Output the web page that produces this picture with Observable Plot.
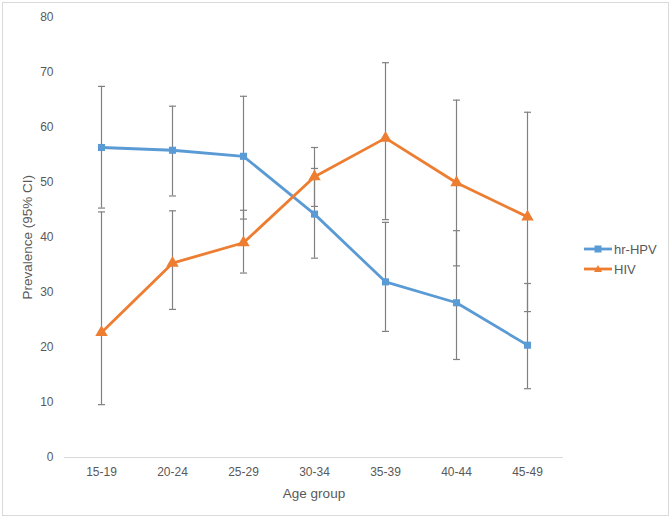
<!DOCTYPE html>
<html><head><meta charset="utf-8">
<script src="https://cdn.jsdelivr.net/npm/d3@7"></script>
<script src="https://cdn.jsdelivr.net/npm/@observablehq/plot@0.6"></script>
<style>
body{margin:0;background:#fff;font-family:"Liberation Sans",Arial,sans-serif;}
#wrap{position:relative;width:672px;height:519px;}
#frame{position:absolute;left:2px;top:2px;width:665px;height:512px;border:1px solid #d9d9d9;pointer-events:none;}
#legend{position:absolute;left:584px;top:239px;font-size:13px;color:#595959;}
.li{display:flex;align-items:center;height:20px;}
.li svg{margin-right:2px;}
</style></head>
<body><div id="wrap"><div id="frame"></div><div id="legend"></div></div>
<script>
const ages = ["15-19","20-24","25-29","30-34","35-39","40-44","45-49"];
const hpv     = [56.3, 55.8, 54.7, 44.2, 31.9, 28.1, 20.4];
const hpvLow  = [45.3, 47.5, 43.3, 36.2, 22.9, 17.8, 12.5];
const hpvHigh = [67.4, 63.8, 65.6, 52.5, 42.7, 41.2, 31.6];
const hiv     = [22.7, 35.3, 39.0, 51.0, 58.0, 49.9, 43.7];
const hivLow  = [9.6, 26.9, 33.5, 45.6, 43.2, 34.8, 26.5];
const hivHigh = [44.6, 44.8, 44.9, 56.3, 71.7, 64.9, 62.7];
const seriesNames = ["hr-HPV", "HIV"];
const colors = ["#5b9bd5", "#ed7d31"];

const rows = [];
ages.forEach((a, i) => {
  rows.push({age: a, s: seriesNames[0], v: hpv[i], lo: hpvLow[i], hi: hpvHigh[i]});
  rows.push({age: a, s: seriesNames[1], v: hiv[i], lo: hivLow[i], hi: hivHigh[i]});
});
const capSymbol = {draw(ctx){ ctx.moveTo(-3.5, 0); ctx.lineTo(3.5, 0); }};
const errColor = "#808080";

const chart = Plot.plot({
  width: 672, height: 519,
  marginLeft: 64, marginRight: 109, marginTop: 16.5, marginBottom: 62,
  style: {fontFamily: '"Liberation Sans", Arial, sans-serif', fontSize: "12px", color: "#595959", background: "transparent"},
  x: {type: "point", domain: ages, padding: 0.5},
  y: {domain: [0, 80]},
  color: {domain: seriesNames, range: colors},
  marks: [
    Plot.ruleY([0], {stroke: "#d9d9d9", strokeWidth: 1}),
    Plot.ruleX(rows, {x: "age", y1: "lo", y2: "hi", stroke: errColor, strokeWidth: 1.2}),
    Plot.dot(rows, {x: "age", y: "lo", symbol: capSymbol, stroke: errColor, strokeWidth: 1.2, r: 4}),
    Plot.dot(rows, {x: "age", y: "hi", symbol: capSymbol, stroke: errColor, strokeWidth: 1.2, r: 4}),
    Plot.line(rows, {x: "age", y: "v", z: "s", stroke: "s", strokeWidth: 2.8}),
    Plot.dot(rows.filter(d => d.s === seriesNames[0]), {x: "age", y: "v", symbol: "square", fill: colors[0], r: 4}),
    Plot.dot(rows.filter(d => d.s === seriesNames[1]), {x: "age", y: "v", symbol: "triangle", fill: colors[1], r: 4.6}),
    Plot.axisY({ticks: d3.range(0, 81, 10), tickSize: 0, tickPadding: 11, label: "Prevalence (95% CI)", labelAnchor: "center", labelArrow: "none", labelOffset: 42, fontSize: 12}),
    Plot.axisX({tickSize: 0, tickPadding: 10, label: "Age group", labelAnchor: "center", labelArrow: "none", labelOffset: 40, fontSize: 12})
  ]
});
chart.style.position = "absolute"; chart.style.left = "0"; chart.style.top = "0";
chart.querySelectorAll('[aria-label="y-axis label"], [aria-label="x-axis label"]').forEach(g => {
  g.setAttribute("font-size", "13.5");
  g.querySelectorAll("text").forEach(t => t.setAttribute("font-size", "13.5"));
});
document.getElementById("wrap").prepend(chart);

const legend = document.getElementById("legend");
seriesNames.forEach((n, i) => {
  const marker = i === 0
    ? `<rect x="10.5" y="3.5" width="7" height="7" fill="${colors[0]}"/>`
    : `<path d="M14,3 L18,10 L10,10 Z" fill="${colors[1]}"/>`;
  legend.insertAdjacentHTML("beforeend",
    `<div class="li"><svg width="28" height="14"><line x1="0" x2="28" y1="7" y2="7" stroke="${colors[i]}" stroke-width="2.8"/>${marker}</svg><span>${n}</span></div>`);
});
</script></body></html>
